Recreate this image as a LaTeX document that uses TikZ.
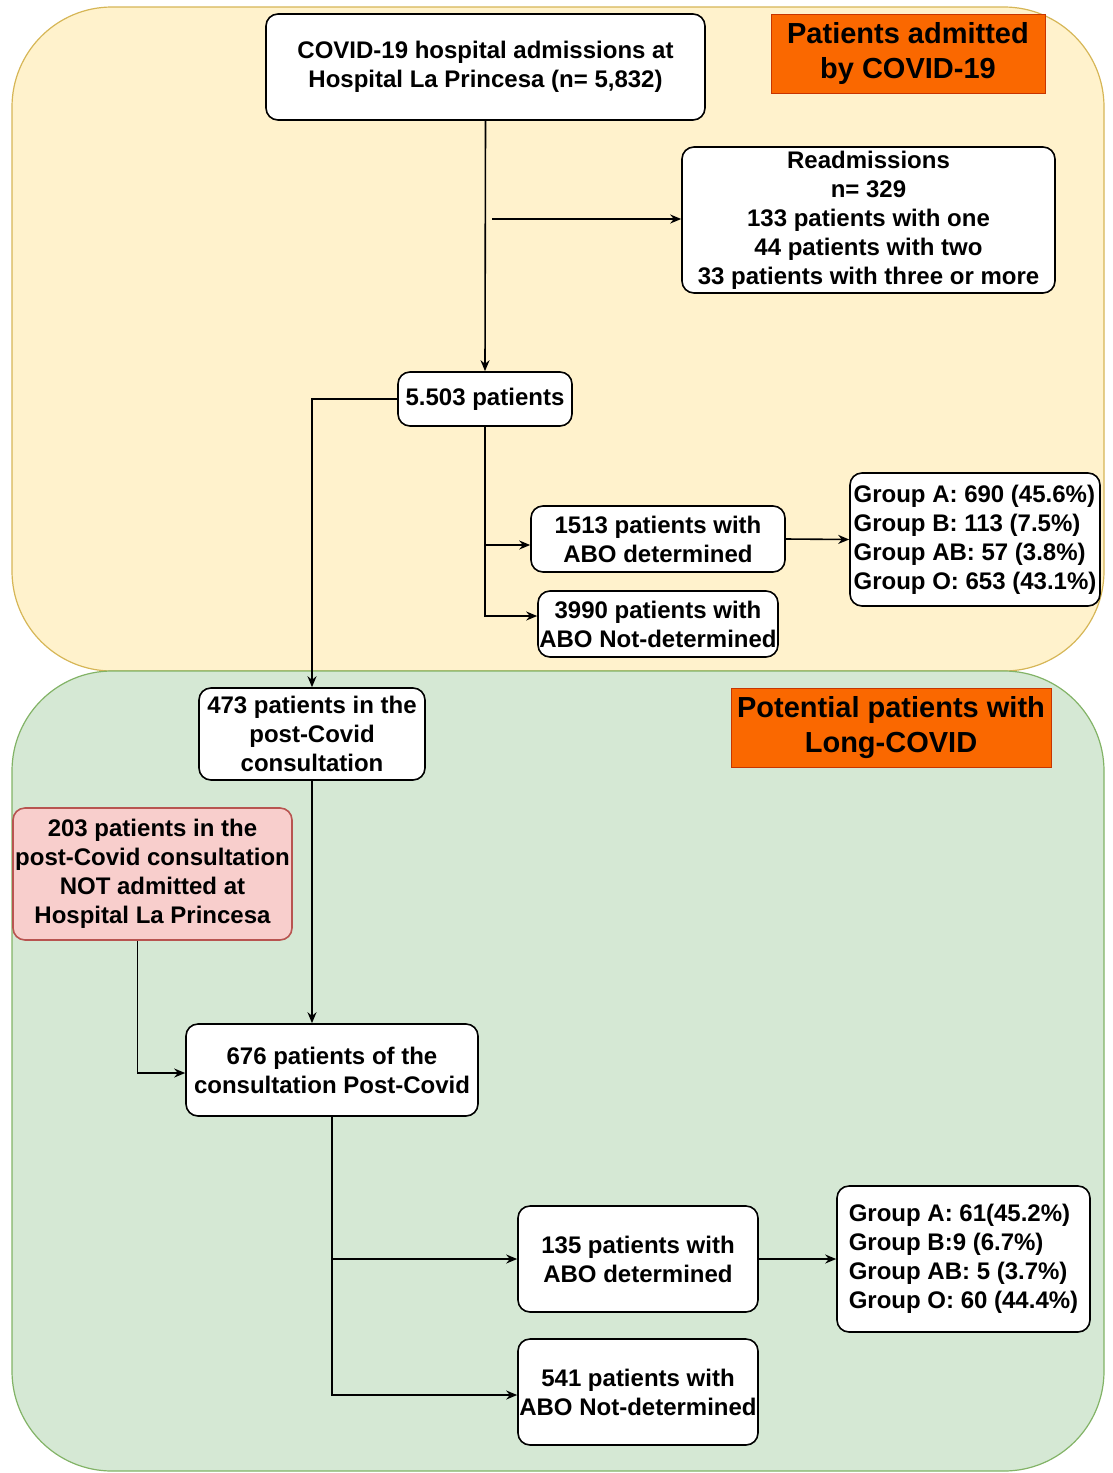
\documentclass[tikz,border=0pt]{standalone}
\usepackage{fontspec}
\setmainfont{Liberation Sans}
\usetikzlibrary{arrows.meta}

\definecolor{admfill}{HTML}{FFF2CC}
\definecolor{admline}{HTML}{D6B656}
\definecolor{longfill}{HTML}{D5E8D4}
\definecolor{longline}{HTML}{82B366}
\definecolor{tagfill}{HTML}{FA6800}
\definecolor{tagline}{HTML}{C73500}
\definecolor{extfill}{HTML}{F8CECC}
\definecolor{extline}{HTML}{B85450}

\begin{document}
\begin{tikzpicture}[x=1pt,y=-1pt,-{Stealth[length=11pt,width=9pt]},line width=1.6pt,
	font=\bfseries\fontsize{24}{29}\selectfont]
\tikzstyle{box}=[draw,fill=white,rounded corners=12pt,align=center,inner sep=1pt]
\tikzstyle{tag}=[draw=tagline,fill=tagfill,line width=1pt,align=center,font=\bfseries\fontsize{29}{35}\selectfont]
\tikzstyle{zone}=[-,rounded corners=100pt,line width=1.2pt]

\useasboundingbox (0,0) rectangle (1112,1473);

\draw[zone,draw=admline,fill=admfill]	(12,7)	rectangle (1104,671);
\draw[zone,draw=longline,fill=longfill]	(12,671)	rectangle (1104,1471);

\node[tag,minimum width=274pt,minimum height=79pt] (tagadm) at (908,53.5) {Patients admitted\\by COVID-19};
\node[tag,minimum width=320pt,minimum height=79pt] (taglong) at (891,727.5) {Potential patients with\\Long-COVID};

\node[box,minimum width=439pt,minimum height=106pt] (adm)	at (485.5,67)	{COVID-19 hospital admissions at\\Hospital La Princesa (n= 5,832)};
\node[box,minimum width=373pt,minimum height=146pt] (readm)	at (868.5,220)	{Readmissions\\n= 329\\133 patients with one\\44 patients with two\\33 patients with three or more};
\node[box,minimum width=174pt,minimum height=54pt] (pat)	at (485,399)	{5.503 patients};
\node[box,minimum width=254pt,minimum height=66pt] (det)	at (658,539)	{1513 patients with\\ABO determined};
\node[box,minimum width=240pt,minimum height=66pt] (nodet)	at (658,624)	{3990 patients with\\ABO Not-determined};
\node[box,minimum width=250pt,minimum height=133pt,align=left] (groups) at (975,539.5) {Group A: 690 (45.6\%)\\Group B: 113 (7.5\%)\\Group AB: 57 (3.8\%)\\Group O: 653 (43.1\%)};

\node[box,minimum width=226pt,minimum height=92pt] (post)	at (312,734)	{473 patients in the\\post-Covid\\consultation};
\node[box,draw=extline,fill=extfill,minimum width=279pt,minimum height=132pt] (extern) at (152.5,874) {203 patients in the\\post-Covid consultation\\NOT admitted at\\Hospital La Princesa};
\node[box,minimum width=292pt,minimum height=92pt] (cons)	at (332,1070)	{676 patients of the\\consultation Post-Covid};
\node[box,minimum width=240pt,minimum height=106pt] (cdet)	at (638,1259)	{135 patients with\\ABO determined};
\node[box,minimum width=240pt,minimum height=106pt] (cnodet)	at (638,1392)	{541 patients with\\ABO Not-determined};
\node[box,minimum width=253pt,minimum height=146pt,align=left] (cgroups) at (963.5,1259) {Group A: 61(45.2\%)\\Group B:9 (6.7\%)\\Group AB: 5 (3.7\%)\\Group O: 60 (44.4\%)};

\coordinate (split) at (492,219);

\draw (adm.south)	-- (pat.north);
\draw (split)	-- (split -| readm.west);
\draw (pat.west)	-| (post.north);
\draw (pat.south)	|- ([yshift=-6pt] det.west);
\draw (pat.south)	|- ([yshift=8pt] nodet.west);
\draw (det.east)	-- (groups.west);
\draw (post.south)	-- (post.south |- cons.north);
\draw ([xshift=-15pt] extern.south)	|- ([yshift=-3pt] cons.west);
\draw (cons.south)	|- (cdet.west);
\draw (cons.south)	|- ([yshift=-3pt] cnodet.west);
\draw (cdet.east)	-- (cgroups.west);

\end{tikzpicture}
\end{document}
